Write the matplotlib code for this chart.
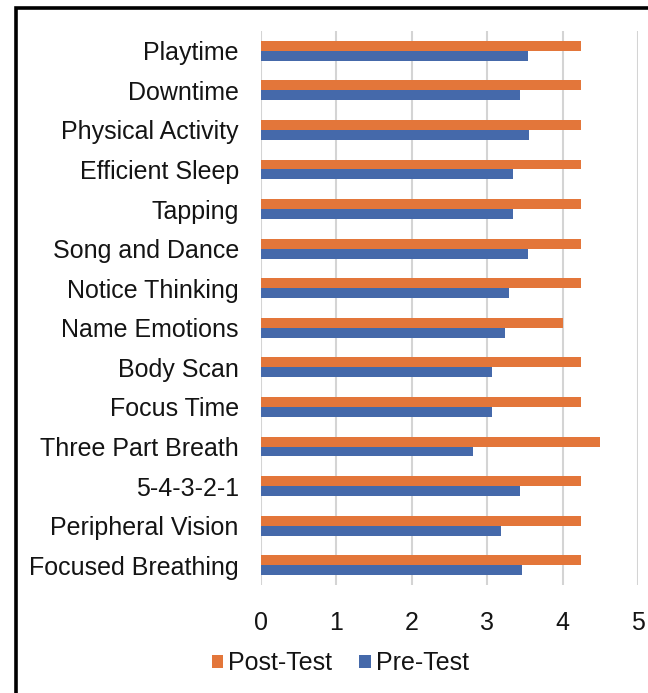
import numpy as np
import matplotlib
matplotlib.use("Agg")
import matplotlib.pyplot as plt
from matplotlib.patches import Rectangle

plt.rcParams['font.family'] = ['Liberation Sans', 'DejaVu Sans']

# categories listed top to bottom as in the chart
categories = ["Playtime", "Downtime", "Physical Activity", "Efficient Sleep",
              "Tapping", "Song and Dance", "Notice Thinking", "Name Emotions",
              "Body Scan", "Focus Time", "Three Part Breath", "5-4-3-2-1",
              "Peripheral Vision", "Focused Breathing"]
post_test = [4.25, 4.25, 4.25, 4.25, 4.25, 4.25, 4.25, 4.0,
             4.25, 4.25, 4.5, 4.25, 4.25, 4.25]
pre_test = [3.54, 3.43, 3.56, 3.34, 3.34, 3.54, 3.29, 3.23,
            3.06, 3.06, 2.81, 3.43, 3.18, 3.46]
x_ticks = [0, 1, 2, 3, 4, 5]

ORANGE = "#E3763A"
BLUE = "#4569AA"
GRID = "#d4d4d4"
TEXT = "#141414"

fig = plt.figure(figsize=(6.48, 6.93), dpi=100)
ax = fig.add_axes([0.4028, 0.1558, 0.5818, 0.7995])

n = len(categories)
y = np.arange(n)[::-1]
h = 0.25
ax.barh(y + h / 2, post_test, height=h, color=ORANGE, label="Post-Test", zorder=3)
ax.barh(y - h / 2, pre_test, height=h, color=BLUE, label="Pre-Test", zorder=3)

ax.set_xlim(0, 5)
ax.set_ylim(-0.5, n - 0.5)
ax.set_xticks(x_ticks)
ax.set_yticks(y)
ax.set_yticklabels(categories)
ax.tick_params(axis="both", length=0, labelsize=18, colors=TEXT)
ax.tick_params(axis="y", pad=16)
ax.tick_params(axis="x", pad=19)
ax.grid(axis="x", color=GRID, linewidth=1.5, zorder=0)
for s in ax.spines.values():
    s.set_visible(False)

leg = fig.legend(loc="center", bbox_to_anchor=(0.525, 0.043), ncol=2, frameon=False,
                 fontsize=18, handlelength=0.45, handleheight=0.45,
                 handletextpad=0.2, columnspacing=1.1)
for t in leg.get_texts():
    t.set_color(TEXT)

# outer frame (only left/top visible in the crop)
fig.patches.append(Rectangle((16 / 648, -0.05), 1.2, 1 - 8 / 693 + 0.05,
                             transform=fig.transFigure, fill=False,
                             edgecolor="black", linewidth=2.6))

fig.savefig("out.png", dpi=100)
